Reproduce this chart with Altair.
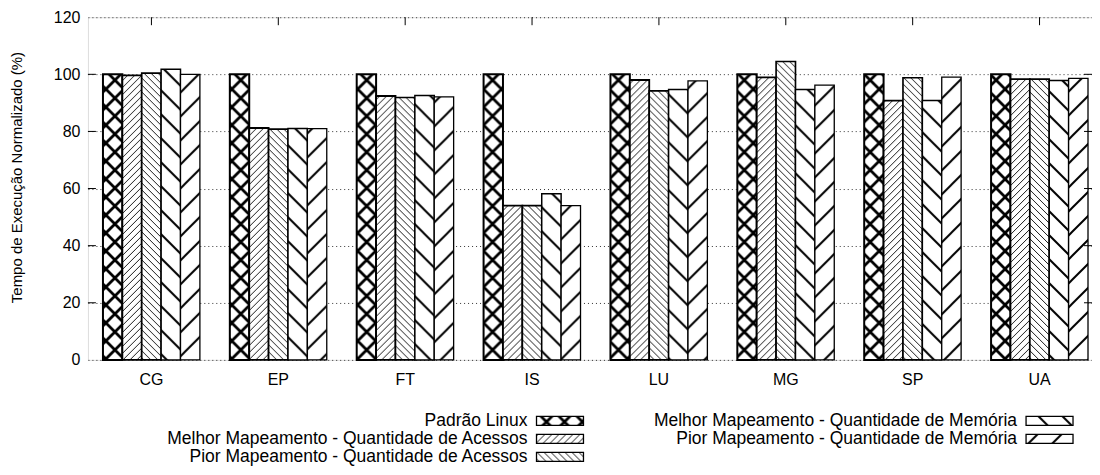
import altair as alt
import pandas as pd

# ---------------- data ----------------
BENCH = ["CG", "EP", "FT", "IS", "LU", "MG", "SP", "UA"]
SERIES = [
    "Padrão Linux",
    "Melhor Mapeamento - Quantidade de Acessos",
    "Pior Mapeamento - Quantidade de Acessos",
    "Melhor Mapeamento - Quantidade de Memória",
    "Pior Mapeamento - Quantidade de Memória",
]
PADRAO = [100, 100, 100, 100, 100, 100, 100, 100]
MELHOR_ACESSOS = [99.6, 81.2, 92.4, 54.0, 98.0, 98.9, 90.8, 98.3]
PIOR_ACESSOS = [100.4, 80.8, 91.9, 54.0, 94.2, 104.5, 98.8, 98.3]
MELHOR_MEMORIA = [101.8, 81.0, 92.6, 58.2, 94.7, 94.7, 90.8, 97.8]
PIOR_MEMORIA = [100.0, 81.0, 92.1, 54.0, 97.7, 96.2, 99.0, 98.6]
Y_TICKS = [0, 20, 40, 60, 80, 100, 120]

# legend layout: column and row of each entry
LEG_COL = [0, 0, 0, 1, 1]
LEG_ROW = [0, 1, 2, 0, 1]

# ---------------- styles ----------------
FILLS = ["url(#p0) white", "url(#p1) white", "url(#p2) white", "url(#p3) white", "url(#p4) white"]
FONT = "Liberation Sans"
AX_FS = 16
TITLE_FS = 15
LEG_FS = 17.5
W, H = 1005, 343

PATTERN_SVG = """
<svg width="0" height="0" style="position:absolute;left:0;top:0">
 <defs>
  <pattern id="p0" patternUnits="userSpaceOnUse" width="18" height="18">
   <rect width="18" height="18" fill="white"/>
   <path d="M0,0 L18,18 M18,0 L0,18 M-4,4 L4,-4 M14,22 L22,14 M14,-4 L22,4 M-4,14 L4,22"
         stroke="black" stroke-width="2.8" fill="none"/>
  </pattern>
  <pattern id="p1" patternUnits="userSpaceOnUse" width="7" height="7">
   <rect width="7" height="7" fill="white"/>
   <path d="M0,7 L7,0 M-2,2 L2,-2 M5,9 L9,5" stroke="black" stroke-width="0.9" fill="none"/>
  </pattern>
  <pattern id="p2" patternUnits="userSpaceOnUse" width="7" height="7">
   <rect width="7" height="7" fill="white"/>
   <path d="M0,0 L7,7 M-2,5 L2,9 M5,-2 L9,2" stroke="black" stroke-width="0.9" fill="none"/>
  </pattern>
  <pattern id="p3" patternUnits="userSpaceOnUse" width="24" height="24">
   <rect width="24" height="24" fill="white"/>
   <path d="M0,0 L24,24 M-4,20 L4,28 M20,-4 L28,4" stroke="black" stroke-width="2" fill="none"/>
  </pattern>
  <pattern id="p4" patternUnits="userSpaceOnUse" width="24" height="24">
   <rect width="24" height="24" fill="white"/>
   <path d="M0,24 L24,0 M-4,4 L4,-4 M20,28 L28,20" stroke="black" stroke-width="2" fill="none"/>
  </pattern>
 </defs>
</svg>
"""

TEMPLATE_SRC = """<!DOCTYPE html>
<html>
<head>
  <meta charset="utf-8">
  <style>
    #{{ output_div }}.vega-embed { width: 100%; display: flex; }
    #{{ output_div }}.vega-embed details,
    #{{ output_div }}.vega-embed details summary { position: relative; }
  </style>
  <script type="text/javascript" src="{{ base_url }}/vega@{{ vega_version }}"></script>
  <script type="text/javascript" src="{{ base_url }}/vega-lite@{{ vegalite_version }}"></script>
  <script type="text/javascript" src="{{ base_url }}/vega-embed@{{ vegaembed_version }}"></script>
</head>
<body>
""" + PATTERN_SVG + """
  <div id="{{ output_div }}"></div>
  <script>
    (function(vegaEmbed) {
      var spec = {{ spec }};
      var embedOpt = {{ embed_options }};
      function showError(el, error){
        el.innerHTML = ('<div style="color:red;"><p>JavaScript Error: ' + error.message + '</p></div>');
        throw error;
      }
      const el = document.getElementById('{{ output_div }}');
      vegaEmbed("#{{ output_div }}", spec, embedOpt).catch(error => showError(el, error));
    })(vegaEmbed);
  </script>
</body>
</html>
"""

try:
    import jinja2
    TEMPLATE = jinja2.Template(TEMPLATE_SRC)
except Exception:
    TEMPLATE = "standard"

# ---------------- tables ----------------
rows = []
for s, vals in zip(SERIES, [PADRAO, MELHOR_ACESSOS, PIOR_ACESSOS, MELHOR_MEMORIA, PIOR_MEMORIA]):
    for b, v in zip(BENCH, vals):
        rows.append({"bench": b, "series": s, "value": v})
df = pd.DataFrame(rows)
ticks_df = pd.DataFrame({"t": Y_TICKS[1:-1]})
bench_df = pd.DataFrame({"bench": BENCH})
leg_df = pd.DataFrame({"series": SERIES, "col": LEG_COL, "row": LEG_ROW})

x_scale = alt.Scale(domain=BENCH, paddingInner=0.236, paddingOuter=0.075, align=0.79)
y_scale = alt.Scale(domain=[0, 120], nice=False)
fill_scale = alt.Scale(domain=SERIES, range=FILLS)

bars = alt.Chart(df).mark_bar(stroke="black").encode(
    x=alt.X("bench:N", sort=BENCH, scale=x_scale, title=None,
            axis=alt.Axis(labelAngle=0, ticks=False, domain=False, labelPadding=12,
                          labelFont=FONT, labelFontSize=AX_FS, labelColor="black")),
    xOffset=alt.XOffset("series:N", sort=SERIES,
                        scale=alt.Scale(domain=SERIES, paddingInner=0, paddingOuter=0)),
    y=alt.Y("value:Q", scale=y_scale, title="Tempo de Execução Normalizado (%)",
            axis=alt.Axis(values=Y_TICKS, ticks=False, domain=False, labelPadding=8,
                          minExtent=36, maxExtent=36, titlePadding=27, titleY=160,
                          labelFont=FONT, labelFontSize=AX_FS, labelColor="black",
                          titleFont=FONT, titleFontSize=TITLE_FS, titleFontWeight="normal",
                          titleColor="black",
                          grid=True, gridDash=[1, 3], gridColor="#333", gridWidth=1)),
    fill=alt.Fill("series:N", scale=fill_scale, legend=None),
    strokeWidth=alt.StrokeWidth("series:O", scale=alt.Scale(domain=SERIES, range=[2, 1.3, 1.3, 1.3, 1.3]),
                                legend=None),
)

left_ticks = alt.Chart(ticks_df).mark_rule(color="black", strokeWidth=1).encode(
    y=alt.Y("t:Q", scale=y_scale), x=alt.value(0), x2=alt.value(8))
right_ticks = alt.Chart(ticks_df).mark_rule(color="black", strokeWidth=1).encode(
    y=alt.Y("t:Q", scale=y_scale), x=alt.value(W - 8), x2=alt.value(W))
top_ticks = alt.Chart(bench_df).mark_rule(color="black", strokeWidth=1).encode(
    x=alt.X("bench:N", sort=BENCH, scale=x_scale, bandPosition=0.5), y=alt.value(0), y2=alt.value(8))

main = alt.layer(bars, left_ticks, right_ticks, top_ticks)

leg_x = alt.Scale(domain=[0, 1], range=[449, 939])
leg_y = alt.Scale(domain=[0, 2], range=[404, 440])
leg_sym = alt.Chart(leg_df).mark_rect(stroke="black", strokeWidth=1.3, x2Offset=47,
                                       yOffset=-4.5, y2Offset=4.5).encode(
    x=alt.X("col:Q", scale=leg_x, axis=None),
    x2="col:Q",
    y=alt.Y("row:Q", scale=leg_y, axis=None),
    y2="row:Q",
    fill=alt.Fill("series:N", scale=fill_scale, legend=None),
)
leg_txt = alt.Chart(leg_df).mark_text(align="right", baseline="middle", dx=-9, font=FONT,
                                      fontSize=LEG_FS, color="black").encode(
    x=alt.X("col:Q", scale=leg_x, axis=None),
    y=alt.Y("row:Q", scale=leg_y, axis=None),
    text="series:N",
)
legend = alt.layer(leg_sym, leg_txt)

chart = alt.layer(main, legend).resolve_scale(x="independent", y="independent").properties(
    width=W, height=H,
    autosize=alt.AutoSizeParams(type="none"),
    padding={"left": 80, "top": 9, "right": 0, "bottom": 110},
).configure_view(stroke="black", strokeWidth=1).configure(background="white")

chart.save("out.html", embed_options={"renderer": "svg", "actions": False}, template=TEMPLATE)
